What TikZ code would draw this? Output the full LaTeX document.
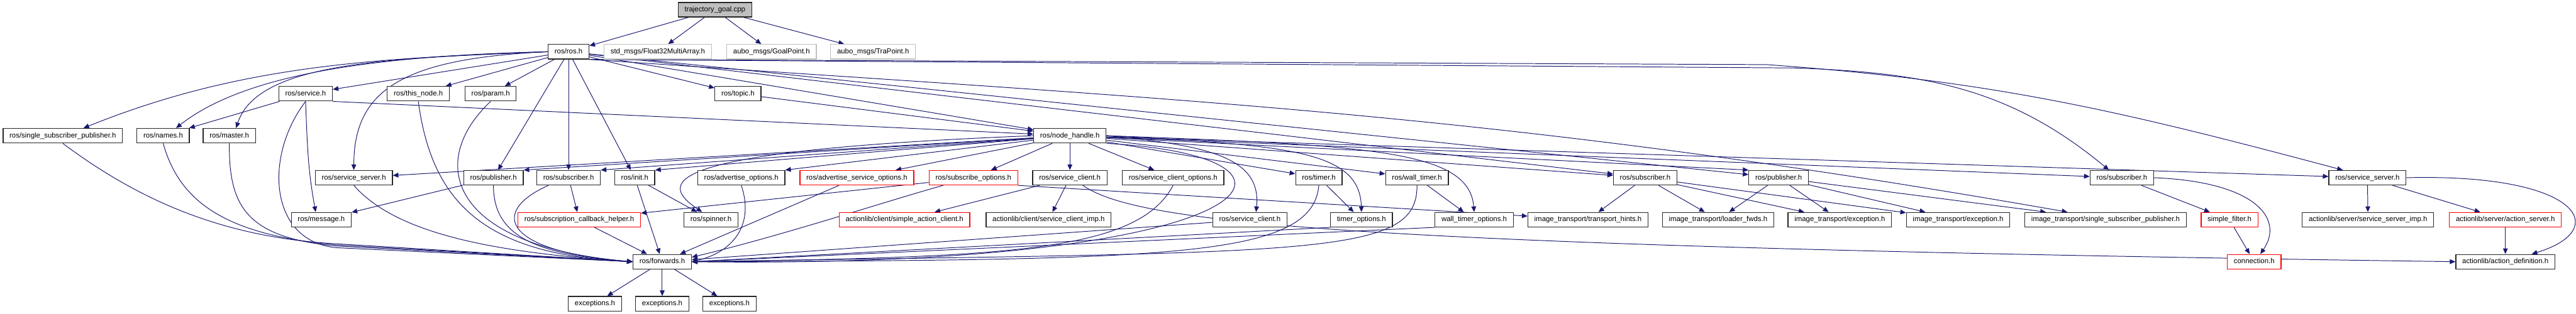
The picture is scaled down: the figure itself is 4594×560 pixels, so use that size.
\documentclass[tikz,border=0pt]{standalone}
\usepackage{fontspec}
\setmainfont{Liberation Sans}
\usetikzlibrary{arrows.meta,calc}
\definecolor{edgeblue}{RGB}{25,25,112}
\definecolor{extgray}{RGB}{191,191,191}
\definecolor{nodocred}{RGB}{255,0,0}
\pgfdeclarelayer{wires}
\pgfsetlayers{wires,main}
\tikzset{
  hdr/.style={draw=black!85,line width=1.4pt,fill=white,minimum height=26pt,inner xsep=11.5pt,inner ysep=0pt,text height=9.6pt,text depth=2.8pt,font=\fontsize{12.8}{15}\selectfont},
  root/.style={hdr,fill=extgray},
  ext/.style={hdr,draw=extgray},
  nodoc/.style={hdr,draw=nodocred},
  dep/.style={-{Triangle[length=10pt,width=8.5pt]},draw=edgeblue,line width=1.1pt}
}

\begin{document}
\begin{tikzpicture}[x=1pt,y=1pt]
\useasboundingbox (0,-0.6) rectangle (4594,559.4);
\node[root] (traj) at (1275,542) {trajectory\_goal.cpp};
\node[hdr] (rosh) at (1014,467) {ros/ros.h};
\node[ext] (stdmsgs) at (1173,467) {std\_msgs/Float32MultiArray.h};
\node[ext] (goal) at (1376,467) {aubo\_msgs/GoalPoint.h};
\node[ext] (trapt) at (1557,467) {aubo\_msgs/TraPoint.h};
\node[hdr] (service) at (545,392) {ros/service.h};
\node[hdr] (thisnode) at (746,392) {ros/this\_node.h};
\node[hdr] (param) at (875,392) {ros/param.h};
\node[hdr] (topic) at (1316,392) {ros/topic.h};
\node[hdr] (ssp) at (112,317) {ros/single\_subscriber\_publisher.h};
\node[hdr] (names) at (291,317) {ros/names.h};
\node[hdr] (master) at (409,317) {ros/master.h};
\node[hdr] (nodehandle) at (1908,317) {ros/node\_handle.h};
\node[hdr] (svcserverA) at (631,242) {ros/service\_server.h};
\node[hdr] (pubA) at (880,242) {ros/publisher.h};
\node[hdr] (subA) at (1014,242) {ros/subscriber.h};
\node[hdr] (init) at (1132,242) {ros/init.h};
\node[hdr] (advopt) at (1322,242) {ros/advertise\_options.h};
\node[nodoc] (advsvcopt) at (1528,242) {ros/advertise\_service\_options.h};
\node[nodoc] (subopt) at (1736,242) {ros/subscribe\_options.h};
\node[hdr] (svcclientA) at (1908,242) {ros/service\_client.h};
\node[hdr] (svcclientopt) at (2092,242) {ros/service\_client\_options.h};
\node[hdr] (timer) at (2352,242) {ros/timer.h};
\node[hdr] (walltimer) at (2527,242) {ros/wall\_timer.h};
\node[hdr] (subB) at (2934,242) {ros/subscriber.h};
\node[hdr] (pubB) at (3172,242) {ros/publisher.h};
\node[hdr] (subC) at (3784,242) {ros/subscriber.h};
\node[hdr] (svcserverB) at (4222,242) {ros/service\_server.h};
\node[hdr] (message) at (573,167) {ros/message.h};
\node[nodoc] (subcb) at (1033,167) {ros/subscription\_callback\_helper.h};
\node[hdr] (spinner) at (1268,167) {ros/spinner.h};
\node[nodoc] (simpleac) at (1613,167) {actionlib/client/simple\_action\_client.h};
\node[hdr] (scimp) at (1870,167) {actionlib/client/service\_client\_imp.h};
\node[hdr] (svcclientB) at (2229,167) {ros/service\_client.h};
\node[hdr] (timeropt) at (2428,167) {timer\_options.h};
\node[hdr] (walltimeropt) at (2629,167) {wall\_timer\_options.h};
\node[hdr] (hints) at (2832,167) {image\_transport/transport\_hints.h};
\node[hdr] (loaderfwds) at (3064,167) {image\_transport/loader\_fwds.h};
\node[hdr] (excA) at (3281,167) {image\_transport/exception.h};
\node[hdr] (excB) at (3492,167) {image\_transport/exception.h};
\node[hdr] (isp) at (3755,167) {image\_transport/single\_subscriber\_publisher.h};
\node[nodoc] (simplefilter) at (3976,167) {simple\_filter.h};
\node[hdr] (ssimp) at (4223,167) {actionlib/server/service\_server\_imp.h};
\node[nodoc] (actserver) at (4468,167) {actionlib/server/action\_server.h};
\node[hdr] (forwards) at (1181,92) {ros/forwards.h};
\node[nodoc] (connection) at (4020,92) {connection.h};
\node[hdr] (actdef) at (4468,92) {actionlib/action\_definition.h};
\node[hdr] (exceptA) at (1061,17) {exceptions.h};
\node[hdr] (exceptB) at (1181,17) {exceptions.h};
\node[hdr] (exceptC) at (1301,17) {exceptions.h};

\begin{pgfonlayer}{wires}
% source file
\draw[dep] (traj) -- (rosh);
\draw[dep] (traj) -- (stdmsgs);
\draw[dep] (traj) -- (goal);
\draw[dep] (traj) -- (trapt);
% ros/ros.h
\draw[dep] (rosh.west) .. controls (650,455) and (420,440) .. ($(ssp.north)+(37,0)$);
\draw[dep] (rosh.west) .. controls (680,460) and (440,430) .. ($(names.north)+(23,0)$);
\draw[dep] (rosh.west) .. controls (700,455) and (460,450) .. ($(master.north)+(12,0)$);
\draw[dep] (rosh) -- (service);
\draw[dep] (rosh) -- (thisnode);
\draw[dep] (rosh) -- (param);
\draw[dep] (rosh.west) .. controls (720,455) and (631,400) .. (svcserverA.north);
\draw[dep] (rosh) -- (pubA);
\draw[dep] (rosh) -- (subA);
\draw[dep] (rosh) -- (init);
\draw[dep] (rosh) -- (topic);
\draw[dep] (rosh) -- (nodehandle);
\draw[dep] (rosh) -- (subB);
\draw[dep] (rosh) -- (pubB);
\draw[dep] (rosh.south east) .. controls (2086,382) and (2666,360) .. ($(isp.north)+(-68,0)$);
\draw[dep] (rosh.south east) -- (3200,438) .. controls (3431,430) and (3584,403) .. ($(subC.north)+(-23,0)$);
\draw[dep] (rosh.south east) -- (3150,444) .. controls (3558,415) and (3783,361) .. ($(svcserverB.north)+(-44,0)$);
% second rank
\draw[dep] (service) -- (names);
\draw[dep] (service.south east) -- (nodehandle);
\draw[dep] (service.south) .. controls (548,301) and (549,257) .. ($(message.north)+(-10,0)$);
\draw[dep] (service.south) .. controls (470,280) and (480,128) .. (600,117) -- (forwards.west);
\draw[dep] (topic) -- (nodehandle);
\draw[dep] (thisnode.south) .. controls (770,200) and (860,105) .. (forwards.west);
\draw[dep] (param.south) .. controls (760,270) and (800,120) .. (forwards.west);
\draw[dep] (ssp.south) .. controls (250,200) and (400,135) .. (600,124) -- (forwards.west);
\draw[dep] (names.south) .. controls (320,200) and (400,140) .. (600,122) -- (forwards.west);
\draw[dep] (master.south) .. controls (408,190) and (440,135) .. (600,120) -- (forwards.west);
% ros/node_handle.h
\draw[dep] (nodehandle.south east) .. controls (2400,280) and (2270,80) .. (forwards.east);
\draw[dep] (nodehandle) -- (svcserverA);
\draw[dep] (nodehandle) -- (pubA.north east);
\draw[dep] (nodehandle) -- (subA.north east);
\draw[dep] (nodehandle) -- (init.north east);
\draw[dep] (nodehandle) -- (advopt.north east);
\draw[dep] (nodehandle) -- (advsvcopt);
\draw[dep] (nodehandle) -- (subopt);
\draw[dep] (nodehandle) -- (svcclientA);
\draw[dep] (nodehandle) -- (svcclientopt);
\draw[dep] (nodehandle) -- (timer);
\draw[dep] (nodehandle) -- (walltimer);
\draw[dep] (nodehandle) -- (subB);
\draw[dep] (nodehandle) -- (pubB.north west);
\draw[dep] (nodehandle) -- (subC);
\draw[dep] (nodehandle) -- (svcserverB);
\draw[dep] (nodehandle.west) .. controls (1150,290) and (1180,230) .. ($(spinner.north)+(-16,0)$);
\draw[dep] (nodehandle.east) .. controls (2150,300) and (2250,280) .. ($(svcclientB.north)+(11,0)$);
\draw[dep] (nodehandle.east) .. controls (2300,300) and (2425,290) .. (timeropt.north);
\draw[dep] (nodehandle.east) .. controls (2450,300) and (2620,290) .. (walltimeropt.north);
% fourth rank
\draw[dep] (svcserverA.south) .. controls (700,150) and (850,110) .. (forwards.west);
\draw[dep] (pubA.south) .. controls (880,140) and (950,105) .. (forwards.west);
\draw[dep] (pubA) -- (message);
\draw[dep] ($(subA.south)+(-36,0)$) .. controls (870,180) and (900,110) .. (forwards.west);
\draw[dep] (subA) -- (subcb);
\draw[dep] (subcb) -- (forwards);
\draw[dep] (init) -- (forwards);
\draw[dep] (init) -- (spinner);
\draw[dep] (advopt.south) .. controls (1345,160) and (1310,110) .. (forwards.east);
\draw[dep] (advsvcopt) -- (forwards);
\draw[dep] ($(subopt.south)+(-54,0)$) .. controls (1580,200) and (1400,140) .. ($(forwards.east)+(0,8)$);
\draw[dep] (subopt) -- (subcb);
\draw[dep] (subopt.south east) -- (hints);
\draw[dep] (svcclientA) -- (simpleac);
\draw[dep] (svcclientA) -- (scimp);
\draw[dep] ($(svcclientA.south)+(23,0)$) .. controls (2030,160) and (2400,120) .. (actdef.west);
\draw[dep] (svcclientopt.south) .. controls (2030,110) and (1800,100) .. (forwards.east);
\draw[dep] (svcclientB) -- (forwards);
\draw[dep] (timer) -- (timeropt);
\draw[dep] (timer.south) .. controls (2340,100) and (2100,95) .. (forwards.east);
\draw[dep] (timeropt.south west) -- (forwards.east);
\draw[dep] (walltimer) -- (walltimeropt);
\draw[dep] (walltimer.south) .. controls (2528,100) and (2350,110) .. (forwards.east);
\draw[dep] (walltimeropt.south west) -- (forwards.east);
\draw[dep] (subB) -- (hints);
\draw[dep] (subB) -- (loaderfwds);
\draw[dep] (subB) -- (excA);
\draw[dep] (subB) -- (excB);
\draw[dep] (pubB) -- (loaderfwds);
\draw[dep] (pubB) -- (excA);
\draw[dep] (pubB) -- (excB);
\draw[dep] (pubB) -- (isp);
\draw[dep] (subC) -- (simplefilter);
\draw[dep] (subC.east) .. controls (4020,235) and (4075,170) .. ($(connection.north)+(11,0)$);
\draw[dep] (simplefilter) -- (connection);
\draw[dep] (svcserverB) -- (ssimp);
\draw[dep] (svcserverB) -- (actserver);
\draw[dep] (svcserverB.east) .. controls (4600,250) and (4660,150) .. ($(actdef.north)+(47,0)$);
\draw[dep] (actserver) -- (actdef);
% ros/forwards.h
\draw[dep] (forwards) -- (exceptA);
\draw[dep] (forwards) -- (exceptB);
\draw[dep] (forwards) -- (exceptC);
\end{pgfonlayer}
\end{tikzpicture}
\end{document}
